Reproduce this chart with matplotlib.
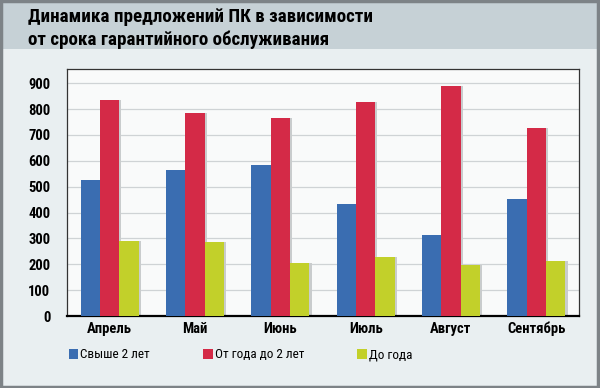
import numpy as np
import matplotlib.pyplot as plt
from matplotlib.patches import Rectangle

months = ["Апрель", "Май", "Июнь", "Июль", "Август", "Сентябрь"]
over2 = [525, 566, 585, 433, 312, 452]
from1to2 = [835, 784, 767, 826, 888, 726]
under1 = [290, 287, 203, 227, 198, 211]
series_names = ["Свыше 2 лет", "От года до 2 лет", "До года"]
colors = ["#3a6db1", "#d42a47", "#c2d02a"]

plt.rcParams["font.family"] = ["Roboto Condensed", "DejaVu Sans"]

fig = plt.figure(figsize=(6.0, 3.88), dpi=100)
fig.patch.set_facecolor("#e9eff1")

# title band and outer frame
fig.patches.append(Rectangle((0, 1 - 49 / 388), 1, 49 / 388, transform=fig.transFigure,
                             facecolor="#c6d1d6", edgecolor="none", zorder=0))
fig.patches.append(Rectangle((0.002, 0.003), 0.995, 0.994, transform=fig.transFigure,
                             facecolor="none", edgecolor="#7d8387", linewidth=2.5, zorder=5))
fig.text(28 / 600, 1 - 17 / 388, "Динамика предложений ПК в зависимости",
         fontsize=13.7, fontweight="bold", va="center", ha="left")
fig.text(28 / 600, 1 - 40 / 388, "от срока гарантийного обслуживания",
         fontsize=13.7, fontweight="bold", va="center", ha="left")

ax = fig.add_axes([67 / 600, 1 - 316 / 388, 512 / 600, 247 / 388])
ax.set_facecolor("#f9fafa")

x = np.arange(len(months))
w = 0.227
handles = []
for i, (vals, c) in enumerate(zip([over2, from1to2, under1], colors)):
    pos = x + (i - 1) * w
    # slight shadow on the right side of each bar
    ax.bar(pos + 0.025, vals, width=w, color="#c9cccd", zorder=2, linewidth=0)
    handles.append(ax.bar(pos, vals, width=w, color=c, zorder=3, linewidth=0))

ax.set_xlim(-0.5, 5.5)
ax.set_ylim(0, 955)
ax.set_yticks(range(0, 1000, 100))
ax.yaxis.grid(True, color="#cfd3d5", linewidth=0.9, zorder=0)
ax.set_xticks(x)
ax.set_xticklabels(months)
ax.tick_params(length=0, labelsize=10.5)
ax.tick_params(axis="y", pad=12)
ax.tick_params(axis="x", pad=4)
for lab in ax.get_xticklabels() + ax.get_yticklabels():
    lab.set_fontweight("bold")
for s in ["top", "right", "left"]:
    ax.spines[s].set_color("#333333")
    ax.spines[s].set_linewidth(0.9)
ax.spines["bottom"].set_linewidth(1.6)

fig.legend(handles=handles, labels=series_names, loc="center left",
           bbox_to_anchor=(62 / 600, 1 - 355 / 388), ncol=3, frameon=False,
           fontsize=9.5, handlelength=0.75, handleheight=0.75, handletextpad=0.15,
           columnspacing=4.0, borderpad=0)

fig.savefig("out.png", dpi=100, facecolor=fig.get_facecolor())
